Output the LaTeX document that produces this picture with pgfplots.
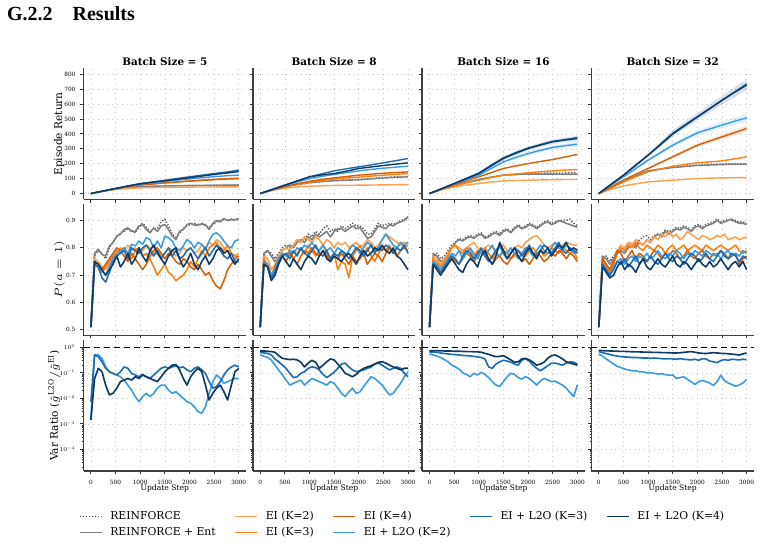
\RequirePackage{fix-cm}
\documentclass[border=0pt]{standalone}
\usepackage{fontspec}
\setmainfont{DejaVu Serif}
\newfontfamily\headfont{Liberation Serif}
\usepackage{pgfplots}
\pgfplotsset{compat=1.18}
\definecolor{cRe}{HTML}{555555}
\definecolor{cEnt}{HTML}{808080}
\definecolor{cE2}{HTML}{FDA050}
\definecolor{cE3}{HTML}{FF7F0E}
\definecolor{cE4}{HTML}{D35F0A}
\definecolor{cL2}{HTML}{3D9BE0}
\definecolor{cL3}{HTML}{1F6DB0}
\definecolor{cL4}{HTML}{0E3A64}
\pgfkeys{/pgfplots/table/s75/.style={/pgfplots/table/x expr=\coordindex*75,/pgfplots/table/y index=0,/pgfplots/table/header=false,/pgfplots/table/row sep=\\}}
\pgfkeys{/pgfplots/table/s250/.style={/pgfplots/table/x expr=\coordindex*250,/pgfplots/table/y index=0,/pgfplots/table/header=false,/pgfplots/table/row sep=\\}}
\pgfplotsset{
 sRe/.style={color=cRe, dash pattern=on 0.6pt off 0.9pt},
 sEnt/.style={color=cEnt},
 sE2/.style={color=cE2},
 sE3/.style={color=cE3},
 sE4/.style={color=cE4},
 sL2/.style={color=cL2},
 sL3/.style={color=cL3},
 sL4/.style={color=cL4},
 band/.style={draw=none, fill=#1, fill opacity=0.16},
 P/.style={scale only axis, width=81.3pt, height=65.6pt, xmin=-150, xmax=3150,
   xtick={0,500,1000,1500,2000,2500,3000},
   axis x line*=bottom, axis y line*=left,
   axis line style={-, draw=black!75, line width=0.7pt},
   tick align=outside, major tick length=1.6pt, minor tick length=0.9pt,
   tick style={draw=black!80, line width=0.4pt},
   xmajorgrids, ymajorgrids, grid style={dotted, draw=black!22, line width=0.3pt},
   tick label style={font=\fontsize{2.9}{3.3}\selectfont},
   xticklabel style={anchor=base, inner sep=0pt, yshift=-5.3pt},
   yticklabel style={anchor=east, inner sep=0pt, xshift=-2.25pt},
   /pgf/number format/assume math mode=true, /pgf/number format/1000 sep={},
   label style={font=\fontsize{5.3}{6}\selectfont},
   ylabel style={at={(axis description cs:-0.132,0.5)}, anchor=base, inner sep=0pt},
   every axis title shift=0pt,
   title style={font=\bfseries\fontsize{5.2}{6}\selectfont, at={(axis description cs:0.5,1)}, anchor=base, yshift=1.3pt, inner sep=0pt},
   every axis plot/.append style={line join=round}},
 R1/.style={P, ymin=-40, ymax=840, ytick={0,100,200,300,400,500,600,700,800}, xticklabels={},
   every axis plot/.append style={line width=0.7pt}},
 R2/.style={P, ymin=0.48, ymax=0.96, ytick={0.5,0.6,0.7,0.8,0.9}, xticklabels={},
   yticklabel style={/pgf/number format/fixed, /pgf/number format/precision=1, /pgf/number format/fixed zerofill},
   every axis plot/.append style={line width=0.78pt}},
 R3/.style={P, ymin=1.4e-5, ymax=1.95, ytick={1e-4,1e-3,1e-2,1e-1,1},
   yticklabels={$10^{-4}$,$10^{-3}$,$10^{-2}$,$10^{-1}$,$10^{0}$},
   minor ytick={2e-5,3e-5,4e-5,5e-5,6e-5,7e-5,8e-5,9e-5,2e-4,3e-4,4e-4,5e-4,6e-4,7e-4,8e-4,9e-4,2e-3,3e-3,4e-3,5e-3,6e-3,7e-3,8e-3,9e-3,2e-2,3e-2,4e-2,5e-2,6e-2,7e-2,8e-2,9e-2,0.2,0.3,0.4,0.5,0.6,0.7,0.8,0.9},
   xlabel={Update Step},
   xlabel style={font=\fontsize{3.8}{4.5}\selectfont, at={(axis description cs:0.5,0)}, anchor=base, yshift=-9.5pt, inner sep=0pt},
   every axis plot/.append style={line width=0.82pt}},
 NY/.style={yticklabels={}},
}
\begin{document}
\begin{tikzpicture}
\path[use as bounding box] (0,0) rectangle (380.5pt,271.5pt);
\node[anchor=base west, inner sep=0pt, font=\headfont\bfseries\fontsize{10}{12}\selectfont] at (3.35pt,261.15pt) {G.2.2\hspace{1em}Results};

% ---------------- ROW 1 : Episode Return ----------------
\begin{axis}[R1, at={(41.75pt,237.35pt)}, anchor=north west, title={Batch Size = 5}, ylabel={Episode Return}]
\addplot[sRe] table[s250] {0\\16\\30\\40\\46\\49\\51\\53\\54\\55\\56\\57\\58\\};
\addplot[sEnt] table[s250] {0\\16\\30\\40\\46\\49\\51\\52\\53\\54\\55\\56\\56\\};
\addplot[sE2] table[s250] {0\\15\\27\\34\\38\\40\\41\\42\\43\\44\\44\\45\\45\\};
\addplot[sE3] table[s250] {0\\16\\32\\46\\58\\65\\72\\78\\84\\90\\95\\100\\104\\};
\addplot[sE4] table[s250] {0\\16\\32\\46\\57\\64\\71\\77\\83\\88\\93\\97\\100\\};
\addplot[sL2] table[s250] {0\\17\\33\\49\\63\\72\\81\\90\\98\\106\\113\\119\\124\\};
\addplot[sL3] table[s250] {0\\17\\34\\51\\67\\78\\89\\101\\112\\123\\134\\144\\157\\};
\addplot[sL4] table[s250] {0\\17\\34\\50\\65\\75\\85\\96\\106\\117\\128\\137\\147\\};
\end{axis}
\begin{axis}[R1, NY, at={(126.4pt,237.35pt)}, anchor=north west, title={Batch Size = 8}]
\addplot[sRe] table[s250] {0\\24\\44\\60\\72\\80\\87\\91\\95\\101\\107\\112\\115\\};
\addplot[sEnt] table[s250] {0\\24\\44\\60\\72\\80\\86\\89\\92\\98\\104\\109\\112\\};
\addplot[sE2] table[s250] {0\\22\\36\\44\\49\\52\\54\\55\\56\\57\\58\\59\\60\\};
\addplot[sE3] table[s250] {0\\24\\45\\62\\76\\88\\97\\104\\110\\117\\123\\129\\134\\};
\addplot[sE4] table[s250] {0\\24\\46\\66\\82\\95\\105\\114\\123\\130\\136\\141\\145\\};
\addplot[sL2] table[s250] {0\\27\\54\\78\\100\\115\\128\\140\\152\\162\\170\\177\\183\\};
\addplot[sL3] table[s250] {0\\28\\56\\84\\112\\132\\152\\166\\179\\192\\206\\220\\235\\};
\addplot[sL4] table[s250] {0\\28\\56\\84\\112\\125\\134\\150\\168\\178\\188\\197\\206\\};
\end{axis}
\begin{axis}[R1, NY, at={(211.05pt,237.35pt)}, anchor=north west, title={Batch Size = 16}]
\addplot[band=cL4] coordinates {(0,0) (500,70) (1000,141) (1500,246) (2000,316) (2500,362) (3000,388) (3000,352) (2500,332) (2000,288) (1500,224) (1000,127) (500,64) (0,0)};
\addplot[band=cL2] coordinates {(0,0) (500,66) (1000,129) (1500,222) (2000,280) (2500,322) (3000,346) (3000,316) (2500,296) (2000,256) (1500,202) (1000,117) (500,60) (0,0)};
\addplot[sRe] table[s250] {0\\28\\52\\74\\94\\110\\124\\129\\134\\136\\137\\138\\139\\};
\addplot[sEnt] table[s250] {0\\28\\52\\74\\94\\110\\123\\127\\130\\130\\130\\130\\130\\};
\addplot[sE2] table[s250] {0\\25\\45\\57\\67\\77\\85\\87\\89\\91\\93\\94\\94\\};
\addplot[sE3] table[s250] {0\\28\\52\\72\\89\\107\\123\\131\\139\\146\\152\\157\\161\\};
\addplot[sE4] table[s250] {0\\30\\58\\86\\112\\140\\168\\185\\201\\215\\228\\245\\262\\};
\addplot[sL2] table[s250] {0\\32\\63\\94\\123\\168\\212\\242\\268\\290\\309\\321\\331\\};
\addplot[sL3] table[s250] {0\\33\\67\\102\\138\\190\\240\\275\\305\\328\\350\\362\\375\\};
\addplot[sL4] table[s250] {0\\33\\67\\100\\134\\185\\235\\270\\302\\325\\347\\359\\369\\};
\end{axis}
\begin{axis}[R1, NY, at={(295.7pt,237.35pt)}, anchor=north west, title={Batch Size = 32}]
\addplot[band=cL4] coordinates {(0,0) (500,130) (1000,270) (1500,425) (2000,540) (2500,655) (3000,765) (3000,695) (2500,597) (2000,490) (1500,382) (1000,245) (500,116) (0,0)};
\addplot[band=cL2] coordinates {(0,0) (500,118) (1000,236) (1500,340) (2000,425) (2500,480) (3000,538) (3000,481) (2500,438) (2000,389) (1500,308) (1000,212) (500,106) (0,0)};
\addplot[band=cE4] coordinates {(0,0) (500,95) (1000,176) (1500,257) (2000,338) (2500,396) (3000,458) (3000,416) (2500,364) (2000,310) (1500,235) (1000,160) (500,85) (0,0)};
\addplot[sRe] table[s250] {0\\39\\78\\118\\150\\165\\176\\184\\191\\195\\198\\200\\201\\};
\addplot[sEnt] table[s250] {0\\39\\78\\118\\152\\164\\174\\181\\188\\191\\194\\196\\197\\};
\addplot[sE2] table[s250] {0\\28\\51\\65\\78\\84\\89\\95\\101\\103\\105\\106\\107\\};
\addplot[sE3] table[s250] {0\\39\\78\\112\\145\\164\\183\\195\\206\\212\\219\\232\\246\\};
\addplot[sE4] table[s250] {0\\45\\90\\129\\168\\207\\246\\285\\324\\352\\380\\408\\436\\};
\addplot[sL2] table[s250] {0\\56\\112\\168\\224\\274\\324\\366\\407\\433\\459\\484\\508\\};
\addplot[sL3] table[s250] {0\\62\\123\\190\\257\\326\\398\\455\\512\\568\\624\\680\\735\\};
\addplot[sL4] table[s250] {0\\62\\123\\190\\257\\330\\403\\460\\515\\570\\626\\678\\727\\};
\end{axis}

% ---------------- ROW 2 : P(a=1) ----------------
\begin{axis}[R2, at={(41.75pt,169.45pt)}, anchor=north west, ylabel={$P(a=1)$}]
\addplot[sRe] table[s75] {0.51\\0.77\\0.79\\0.78\\0.76\\0.80\\0.82\\0.84\\0.855\\0.86\\0.87\\0.865\\0.855\\0.875\\0.89\\0.875\\0.86\\0.87\\0.87\\0.895\\0.905\\0.88\\0.85\\0.84\\0.855\\0.87\\0.88\\0.885\\0.89\\0.88\\0.89\\0.88\\0.875\\0.885\\0.895\\0.9\\0.905\\0.9\\0.905\\0.9\\0.905\\};
\addplot[sEnt] table[s75] {0.51\\0.78\\0.795\\0.776\\0.77\\0.807\\0.82\\0.843\\0.85\\0.867\\0.873\\0.86\\0.86\\0.88\\0.885\\0.867\\0.855\\0.873\\0.86\\0.88\\0.885\\0.867\\0.843\\0.83\\0.86\\0.867\\0.885\\0.89\\0.883\\0.885\\0.887\\0.885\\0.867\\0.89\\0.9\\0.895\\0.907\\0.9\\0.903\\0.903\\0.907\\};
\addplot[sE2] table[s75] {0.51\\0.76\\0.75\\0.73\\0.72\\0.74\\0.76\\0.78\\0.80\\0.79\\0.81\\0.79\\0.80\\0.78\\0.79\\0.81\\0.80\\0.78\\0.79\\0.77\\0.78\\0.80\\0.79\\0.77\\0.78\\0.80\\0.79\\0.80\\0.78\\0.79\\0.81\\0.80\\0.82\\0.81\\0.83\\0.82\\0.80\\0.79\\0.78\\0.77\\0.78\\};
\addplot[sE3] table[s75] {0.51\\0.74\\0.73\\0.71\\0.73\\0.75\\0.77\\0.79\\0.78\\0.80\\0.78\\0.76\\0.79\\0.80\\0.77\\0.78\\0.76\\0.73\\0.70\\0.72\\0.74\\0.71\\0.70\\0.68\\0.69\\0.70\\0.72\\0.75\\0.73\\0.76\\0.79\\0.77\\0.80\\0.81\\0.82\\0.80\\0.79\\0.81\\0.78\\0.77\\0.77\\};
\addplot[sE4] table[s75] {0.51\\0.75\\0.74\\0.72\\0.74\\0.76\\0.78\\0.80\\0.79\\0.77\\0.75\\0.78\\0.76\\0.74\\0.72\\0.74\\0.77\\0.79\\0.80\\0.78\\0.76\\0.78\\0.77\\0.75\\0.74\\0.76\\0.75\\0.73\\0.72\\0.74\\0.72\\0.70\\0.71\\0.68\\0.66\\0.65\\0.68\\0.72\\0.74\\0.76\\0.77\\};
\addplot[sL2] table[s75] {0.51\\0.75\\0.74\\0.716\\0.70\\0.73\\0.764\\0.776\\0.79\\0.80\\0.78\\0.813\\0.807\\0.825\\0.813\\0.837\\0.83\\0.80\\0.825\\0.80\\0.843\\0.837\\0.825\\0.80\\0.79\\0.807\\0.83\\0.82\\0.80\\0.82\\0.813\\0.795\\0.825\\0.85\\0.855\\0.843\\0.825\\0.807\\0.80\\0.825\\0.83\\};
\addplot[sL3] table[s75] {0.51\\0.74\\0.73\\0.69\\0.675\\0.71\\0.75\\0.77\\0.78\\0.79\\0.76\\0.80\\0.79\\0.78\\0.80\\0.81\\0.79\\0.77\\0.79\\0.76\\0.78\\0.80\\0.77\\0.79\\0.76\\0.77\\0.79\\0.80\\0.78\\0.76\\0.78\\0.80\\0.77\\0.79\\0.81\\0.79\\0.77\\0.76\\0.78\\0.75\\0.75\\};
\addplot[sL4] table[s75] {0.51\\0.75\\0.74\\0.72\\0.70\\0.72\\0.74\\0.77\\0.73\\0.75\\0.78\\0.74\\0.76\\0.80\\0.77\\0.75\\0.79\\0.81\\0.78\\0.76\\0.74\\0.77\\0.79\\0.80\\0.76\\0.73\\0.75\\0.78\\0.74\\0.72\\0.75\\0.77\\0.74\\0.76\\0.79\\0.80\\0.78\\0.79\\0.76\\0.74\\0.76\\};
\end{axis}
\begin{axis}[R2, NY, at={(126.4pt,169.45pt)}, anchor=north west]
\addplot[sRe] table[s75] {0.51\\0.77\\0.79\\0.78\\0.76\\0.78\\0.80\\0.81\\0.80\\0.81\\0.83\\0.82\\0.83\\0.85\\0.84\\0.86\\0.85\\0.87\\0.88\\0.86\\0.87\\0.86\\0.88\\0.87\\0.88\\0.89\\0.88\\0.88\\0.87\\0.85\\0.85\\0.87\\0.89\\0.88\\0.885\\0.89\\0.885\\0.89\\0.90\\0.905\\0.91\\};
\addplot[sEnt] table[s75] {0.51\\0.78\\0.79\\0.77\\0.75\\0.77\\0.79\\0.80\\0.81\\0.80\\0.82\\0.83\\0.82\\0.84\\0.83\\0.85\\0.84\\0.85\\0.86\\0.84\\0.86\\0.87\\0.87\\0.86\\0.87\\0.88\\0.87\\0.875\\0.855\\0.835\\0.84\\0.86\\0.88\\0.875\\0.87\\0.885\\0.88\\0.89\\0.895\\0.90\\0.915\\};
\addplot[sE2] table[s75] {0.51\\0.77\\0.76\\0.72\\0.74\\0.77\\0.79\\0.80\\0.79\\0.81\\0.83\\0.82\\0.84\\0.83\\0.82\\0.84\\0.83\\0.81\\0.83\\0.82\\0.80\\0.82\\0.81\\0.82\\0.80\\0.81\\0.82\\0.80\\0.81\\0.83\\0.82\\0.80\\0.81\\0.83\\0.85\\0.84\\0.83\\0.82\\0.81\\0.82\\0.82\\};
\addplot[sE3] table[s75] {0.51\\0.76\\0.74\\0.70\\0.72\\0.76\\0.78\\0.77\\0.79\\0.76\\0.78\\0.80\\0.78\\0.81\\0.79\\0.77\\0.79\\0.81\\0.78\\0.76\\0.78\\0.72\\0.75\\0.74\\0.69\\0.77\\0.79\\0.81\\0.78\\0.80\\0.77\\0.75\\0.78\\0.80\\0.79\\0.81\\0.78\\0.80\\0.82\\0.80\\0.81\\};
\addplot[sE4] table[s75] {0.51\\0.75\\0.73\\0.70\\0.73\\0.76\\0.77\\0.75\\0.78\\0.76\\0.74\\0.77\\0.79\\0.78\\0.80\\0.78\\0.77\\0.79\\0.77\\0.75\\0.77\\0.76\\0.78\\0.76\\0.74\\0.77\\0.75\\0.76\\0.78\\0.74\\0.76\\0.78\\0.77\\0.75\\0.78\\0.80\\0.79\\0.77\\0.79\\0.80\\0.79\\};
\addplot[sL2] table[s75] {0.51\\0.75\\0.74\\0.70\\0.72\\0.76\\0.78\\0.77\\0.79\\0.78\\0.80\\0.79\\0.81\\0.80\\0.82\\0.80\\0.79\\0.81\\0.79\\0.80\\0.78\\0.80\\0.79\\0.77\\0.79\\0.81\\0.80\\0.78\\0.80\\0.82\\0.81\\0.79\\0.80\\0.83\\0.85\\0.83\\0.81\\0.80\\0.82\\0.81\\0.82\\};
\addplot[sL3] table[s75] {0.51\\0.74\\0.73\\0.69\\0.71\\0.75\\0.77\\0.78\\0.76\\0.79\\0.77\\0.80\\0.78\\0.77\\0.79\\0.81\\0.78\\0.77\\0.79\\0.76\\0.78\\0.77\\0.79\\0.78\\0.76\\0.78\\0.80\\0.79\\0.77\\0.79\\0.81\\0.78\\0.80\\0.79\\0.81\\0.80\\0.78\\0.80\\0.79\\0.81\\0.78\\};
\addplot[sL4] table[s75] {0.51\\0.74\\0.73\\0.68\\0.70\\0.74\\0.77\\0.75\\0.73\\0.76\\0.74\\0.72\\0.75\\0.77\\0.76\\0.74\\0.77\\0.79\\0.76\\0.75\\0.77\\0.76\\0.75\\0.77\\0.78\\0.76\\0.74\\0.77\\0.79\\0.77\\0.78\\0.80\\0.79\\0.81\\0.79\\0.78\\0.80\\0.77\\0.76\\0.74\\0.72\\};
\end{axis}
\begin{axis}[R2, NY, at={(211.05pt,169.45pt)}, anchor=north west]
\addplot[sRe] table[s75] {0.51\\0.77\\0.78\\0.76\\0.77\\0.79\\0.81\\0.82\\0.835\\0.83\\0.84\\0.845\\0.84\\0.85\\0.855\\0.84\\0.845\\0.855\\0.86\\0.85\\0.865\\0.87\\0.86\\0.875\\0.885\\0.875\\0.88\\0.89\\0.885\\0.875\\0.885\\0.895\\0.9\\0.89\\0.895\\0.9\\0.9\\0.9\\0.905\\0.89\\0.88\\};
\addplot[sEnt] table[s75] {0.51\\0.78\\0.77\\0.75\\0.76\\0.78\\0.80\\0.82\\0.83\\0.825\\0.835\\0.84\\0.835\\0.845\\0.85\\0.835\\0.84\\0.85\\0.855\\0.845\\0.86\\0.865\\0.855\\0.87\\0.88\\0.87\\0.875\\0.885\\0.88\\0.87\\0.88\\0.89\\0.895\\0.885\\0.89\\0.90\\0.895\\0.89\\0.885\\0.88\\0.875\\};
\addplot[sE2] table[s75] {0.51\\0.77\\0.76\\0.74\\0.76\\0.78\\0.80\\0.81\\0.80\\0.79\\0.80\\0.81\\0.82\\0.80\\0.79\\0.80\\0.81\\0.80\\0.79\\0.80\\0.81\\0.79\\0.78\\0.80\\0.81\\0.80\\0.82\\0.83\\0.84\\0.845\\0.83\\0.81\\0.80\\0.81\\0.82\\0.80\\0.81\\0.82\\0.815\\0.81\\0.81\\};
\addplot[sE3] table[s75] {0.51\\0.76\\0.75\\0.73\\0.75\\0.77\\0.80\\0.81\\0.79\\0.78\\0.80\\0.79\\0.77\\0.79\\0.78\\0.80\\0.78\\0.76\\0.78\\0.77\\0.79\\0.78\\0.76\\0.77\\0.79\\0.78\\0.77\\0.79\\0.80\\0.78\\0.79\\0.77\\0.78\\0.80\\0.79\\0.78\\0.80\\0.79\\0.78\\0.79\\0.76\\};
\addplot[sE4] table[s75] {0.51\\0.75\\0.73\\0.71\\0.72\\0.75\\0.77\\0.75\\0.74\\0.76\\0.78\\0.77\\0.75\\0.77\\0.79\\0.78\\0.76\\0.74\\0.76\\0.77\\0.75\\0.74\\0.76\\0.78\\0.77\\0.75\\0.76\\0.74\\0.76\\0.78\\0.77\\0.75\\0.76\\0.78\\0.77\\0.79\\0.78\\0.76\\0.78\\0.77\\0.75\\};
\addplot[sL2] table[s75] {0.51\\0.75\\0.74\\0.72\\0.74\\0.76\\0.78\\0.77\\0.79\\0.76\\0.78\\0.80\\0.78\\0.76\\0.79\\0.77\\0.79\\0.81\\0.78\\0.77\\0.79\\0.78\\0.80\\0.78\\0.76\\0.78\\0.80\\0.79\\0.77\\0.79\\0.81\\0.79\\0.78\\0.80\\0.82\\0.80\\0.79\\0.81\\0.80\\0.78\\0.79\\};
\addplot[sL3] table[s75] {0.51\\0.74\\0.73\\0.71\\0.73\\0.75\\0.77\\0.76\\0.74\\0.77\\0.79\\0.78\\0.76\\0.78\\0.80\\0.77\\0.75\\0.77\\0.79\\0.81\\0.78\\0.76\\0.78\\0.80\\0.79\\0.77\\0.79\\0.81\\0.78\\0.77\\0.79\\0.81\\0.80\\0.78\\0.80\\0.82\\0.79\\0.78\\0.80\\0.79\\0.78\\};
\addplot[sL4] table[s75] {0.51\\0.74\\0.72\\0.70\\0.72\\0.74\\0.76\\0.74\\0.72\\0.71\\0.74\\0.76\\0.75\\0.73\\0.77\\0.79\\0.76\\0.74\\0.77\\0.82\\0.79\\0.76\\0.78\\0.80\\0.77\\0.75\\0.78\\0.80\\0.78\\0.76\\0.79\\0.78\\0.80\\0.77\\0.79\\0.81\\0.80\\0.82\\0.79\\0.80\\0.79\\};
\end{axis}
\begin{axis}[R2, NY, at={(295.7pt,169.45pt)}, anchor=north west]
\addplot[sRe] table[s75] {0.51\\0.76\\0.77\\0.75\\0.77\\0.79\\0.80\\0.79\\0.81\\0.82\\0.81\\0.83\\0.84\\0.845\\0.83\\0.845\\0.85\\0.85\\0.865\\0.86\\0.865\\0.875\\0.87\\0.88\\0.875\\0.865\\0.88\\0.885\\0.875\\0.885\\0.89\\0.895\\0.905\\0.895\\0.9\\0.905\\0.9\\0.9\\0.895\\0.895\\0.89\\};
\addplot[sEnt] table[s75] {0.51\\0.77\\0.76\\0.74\\0.76\\0.78\\0.79\\0.78\\0.80\\0.81\\0.80\\0.82\\0.81\\0.83\\0.82\\0.84\\0.85\\0.84\\0.86\\0.85\\0.86\\0.87\\0.865\\0.875\\0.87\\0.86\\0.875\\0.88\\0.87\\0.88\\0.885\\0.89\\0.90\\0.89\\0.895\\0.90\\0.905\\0.895\\0.89\\0.89\\0.885\\};
\addplot[sE2] table[s75] {0.51\\0.76\\0.74\\0.72\\0.75\\0.79\\0.81\\0.80\\0.82\\0.81\\0.83\\0.82\\0.81\\0.83\\0.82\\0.84\\0.83\\0.85\\0.84\\0.86\\0.84\\0.85\\0.83\\0.84\\0.86\\0.85\\0.84\\0.83\\0.845\\0.84\\0.83\\0.835\\0.845\\0.84\\0.85\\0.83\\0.835\\0.84\\0.83\\0.835\\0.84\\};
\addplot[sE3] table[s75] {0.51\\0.75\\0.73\\0.71\\0.74\\0.78\\0.80\\0.79\\0.81\\0.80\\0.82\\0.80\\0.79\\0.81\\0.80\\0.79\\0.81\\0.80\\0.78\\0.80\\0.81\\0.79\\0.80\\0.81\\0.79\\0.80\\0.81\\0.80\\0.79\\0.81\\0.80\\0.79\\0.80\\0.81\\0.80\\0.79\\0.80\\0.81\\0.79\\0.78\\0.79\\};
\addplot[sE4] table[s75] {0.51\\0.76\\0.74\\0.72\\0.75\\0.79\\0.78\\0.75\\0.77\\0.79\\0.76\\0.78\\0.77\\0.75\\0.77\\0.79\\0.78\\0.76\\0.78\\0.77\\0.79\\0.78\\0.76\\0.77\\0.79\\0.77\\0.76\\0.78\\0.79\\0.77\\0.76\\0.78\\0.77\\0.79\\0.78\\0.76\\0.77\\0.78\\0.74\\0.76\\0.77\\};
\addplot[sL2] table[s75] {0.51\\0.74\\0.72\\0.70\\0.73\\0.75\\0.76\\0.74\\0.76\\0.77\\0.75\\0.77\\0.76\\0.78\\0.76\\0.77\\0.79\\0.77\\0.76\\0.78\\0.77\\0.79\\0.78\\0.76\\0.78\\0.77\\0.79\\0.78\\0.77\\0.79\\0.78\\0.77\\0.78\\0.76\\0.78\\0.79\\0.77\\0.78\\0.77\\0.79\\0.78\\};
\addplot[sL3] table[s75] {0.51\\0.74\\0.72\\0.70\\0.72\\0.75\\0.74\\0.76\\0.73\\0.75\\0.77\\0.74\\0.76\\0.75\\0.77\\0.75\\0.74\\0.76\\0.78\\0.76\\0.75\\0.77\\0.76\\0.74\\0.76\\0.78\\0.77\\0.75\\0.76\\0.78\\0.76\\0.75\\0.77\\0.79\\0.77\\0.76\\0.78\\0.77\\0.75\\0.77\\0.76\\};
\addplot[sL4] table[s75] {0.51\\0.73\\0.71\\0.69\\0.70\\0.73\\0.75\\0.72\\0.74\\0.73\\0.71\\0.74\\0.76\\0.73\\0.72\\0.74\\0.76\\0.74\\0.73\\0.75\\0.77\\0.74\\0.73\\0.75\\0.74\\0.72\\0.74\\0.76\\0.74\\0.73\\0.75\\0.73\\0.74\\0.76\\0.74\\0.72\\0.74\\0.75\\0.73\\0.75\\0.72\\};
\end{axis}

% ---------------- ROW 3 : Var Ratio ----------------
\begin{axis}[ymode=log, R3, at={(41.75pt,101.55pt)}, anchor=north west, ylabel={Var Ratio ($\hat{g}^{\mathrm{L2O}}/\hat{g}^{\mathrm{EI}}$)}, ylabel style={at={(axis description cs:-0.157,0.5)}}]
\addplot[black, densely dashed, line width=0.4pt] coordinates {(-150,1) (3150,1)};
\addplot[sL2] table[s75] {0.0017\\0.5\\0.5\\0.37\\0.17\\0.11\\0.095\\0.082\\0.07\\0.052\\0.033\\0.021\\0.0117\\0.0074\\0.0117\\0.0157\\0.0117\\0.0157\\0.025\\0.033\\0.033\\0.021\\0.0157\\0.018\\0.0135\\0.01\\0.0074\\0.0064\\0.0047\\0.003\\0.0026\\0.0047\\0.0157\\0.045\\0.082\\0.06\\0.039\\0.045\\0.052\\0.06\\0.06\\};
\addplot[sL3] table[s75] {0.0074\\0.5\\0.43\\0.27\\0.15\\0.11\\0.095\\0.082\\0.11\\0.17\\0.15\\0.095\\0.082\\0.07\\0.087\\0.07\\0.06\\0.082\\0.11\\0.15\\0.17\\0.15\\0.17\\0.19\\0.16\\0.17\\0.13\\0.11\\0.15\\0.17\\0.13\\0.095\\0.045\\0.025\\0.029\\0.045\\0.082\\0.13\\0.17\\0.2\\0.17\\};
\addplot[sL4] table[s75] {0.0014\\0.06\\0.15\\0.11\\0.033\\0.0135\\0.0157\\0.025\\0.045\\0.052\\0.06\\0.052\\0.07\\0.06\\0.082\\0.07\\0.06\\0.052\\0.045\\0.07\\0.11\\0.15\\0.2\\0.21\\0.13\\0.06\\0.033\\0.07\\0.11\\0.15\\0.11\\0.033\\0.0086\\0.0157\\0.025\\0.033\\0.018\\0.0086\\0.033\\0.11\\0.15\\};
\end{axis}
\begin{axis}[ymode=log, R3, NY, at={(126.4pt,101.55pt)}, anchor=north west]
\addplot[black, densely dashed, line width=0.4pt] coordinates {(-150,1) (3150,1)};
\addplot[sL2] table[s75] {0.5\\0.45\\0.4\\0.32\\0.2\\0.13\\0.082\\0.052\\0.033\\0.039\\0.045\\0.052\\0.033\\0.045\\0.06\\0.052\\0.045\\0.039\\0.033\\0.045\\0.039\\0.025\\0.0157\\0.0117\\0.018\\0.025\\0.0157\\0.018\\0.029\\0.045\\0.07\\0.06\\0.045\\0.033\\0.021\\0.0135\\0.0157\\0.025\\0.039\\0.07\\0.11\\};
\addplot[sL3] table[s75] {0.62\\0.6\\0.58\\0.5\\0.35\\0.27\\0.2\\0.15\\0.096\\0.065\\0.07\\0.096\\0.11\\0.15\\0.17\\0.16\\0.13\\0.087\\0.065\\0.082\\0.105\\0.15\\0.22\\0.24\\0.17\\0.13\\0.11\\0.12\\0.13\\0.15\\0.17\\0.22\\0.24\\0.2\\0.16\\0.13\\0.15\\0.17\\0.15\\0.096\\0.07\\};
\addplot[sL4] table[s75] {0.72\\0.72\\0.70\\0.68\\0.64\\0.47\\0.37\\0.35\\0.33\\0.34\\0.32\\0.26\\0.17\\0.24\\0.31\\0.26\\0.15\\0.2\\0.27\\0.35\\0.32\\0.22\\0.15\\0.096\\0.082\\0.07\\0.087\\0.12\\0.15\\0.17\\0.19\\0.22\\0.26\\0.27\\0.24\\0.2\\0.17\\0.15\\0.13\\0.15\\0.15\\};
\end{axis}
\begin{axis}[ymode=log, R3, NY, at={(211.05pt,101.55pt)}, anchor=north west]
\addplot[black, densely dashed, line width=0.4pt] coordinates {(-150,1) (3150,1)};
\addplot[sL2] table[s75] {0.55\\0.5\\0.45\\0.4\\0.33\\0.27\\0.2\\0.17\\0.14\\0.1\\0.087\\0.07\\0.096\\0.082\\0.105\\0.087\\0.065\\0.045\\0.033\\0.029\\0.045\\0.07\\0.096\\0.087\\0.065\\0.057\\0.07\\0.06\\0.045\\0.033\\0.048\\0.06\\0.052\\0.045\\0.047\\0.039\\0.033\\0.025\\0.017\\0.0117\\0.033\\};
\addplot[sL3] table[s75] {0.65\\0.66\\0.64\\0.6\\0.57\\0.55\\0.53\\0.52\\0.5\\0.48\\0.47\\0.46\\0.44\\0.42\\0.4\\0.35\\0.17\\0.15\\0.22\\0.27\\0.31\\0.29\\0.26\\0.22\\0.2\\0.32\\0.35\\0.29\\0.2\\0.15\\0.12\\0.15\\0.19\\0.24\\0.24\\0.22\\0.2\\0.24\\0.27\\0.26\\0.22\\};
\addplot[sL4] table[s75] {0.72\\0.74\\0.74\\0.73\\0.72\\0.72\\0.71\\0.70\\0.70\\0.69\\0.68\\0.68\\0.67\\0.66\\0.64\\0.58\\0.53\\0.47\\0.43\\0.44\\0.47\\0.39\\0.32\\0.26\\0.27\\0.35\\0.37\\0.32\\0.26\\0.2\\0.22\\0.26\\0.37\\0.47\\0.5\\0.43\\0.35\\0.27\\0.24\\0.22\\0.2\\};
\end{axis}
\begin{axis}[ymode=log, R3, NY, at={(295.7pt,101.55pt)}, anchor=north west]
\addplot[black, densely dashed, line width=0.4pt] coordinates {(-150,1) (3150,1)};
\addplot[sL2] table[s75] {0.55\\0.45\\0.35\\0.28\\0.22\\0.18\\0.16\\0.14\\0.13\\0.12\\0.12\\0.11\\0.11\\0.10\\0.10\\0.095\\0.09\\0.092\\0.085\\0.08\\0.082\\0.06\\0.065\\0.07\\0.055\\0.045\\0.035\\0.045\\0.05\\0.045\\0.04\\0.032\\0.045\\0.08\\0.05\\0.04\\0.035\\0.03\\0.033\\0.04\\0.055\\};
\addplot[sL3] table[s75] {0.68\\0.62\\0.57\\0.52\\0.48\\0.45\\0.43\\0.42\\0.41\\0.40\\0.40\\0.39\\0.38\\0.38\\0.37\\0.38\\0.37\\0.36\\0.35\\0.36\\0.35\\0.34\\0.36\\0.34\\0.33\\0.32\\0.34\\0.31\\0.36\\0.35\\0.29\\0.27\\0.25\\0.3\\0.33\\0.31\\0.34\\0.33\\0.32\\0.34\\0.33\\};
\addplot[sL4] table[s75] {0.75\\0.74\\0.73\\0.72\\0.71\\0.70\\0.69\\0.69\\0.68\\0.67\\0.66\\0.66\\0.65\\0.65\\0.64\\0.63\\0.63\\0.62\\0.62\\0.61\\0.60\\0.60\\0.61\\0.63\\0.66\\0.68\\0.64\\0.60\\0.58\\0.57\\0.59\\0.62\\0.60\\0.58\\0.57\\0.56\\0.54\\0.52\\0.50\\0.55\\0.60\\};
\end{axis}

% ---------------- Legend ----------------
\begin{axis}[at={(41.75pt,101.55pt)}, anchor=north west, scale only axis, width=81.3pt, height=65.6pt,
  hide axis, xmin=0, xmax=1, ymin=0, ymax=1,
  legend columns=5, legend cell align=left,
  every axis plot/.append style={line width=0.6pt},
  legend image code/.code={\draw[#1] (0pt,0pt) -- (11pt,0pt);},
  legend style={at={(axis description cs:-0.0258,-0.3095)}, anchor=north west, draw=none, fill=none,
    inner sep=0pt, outer sep=0pt, font=\fontsize{5.4}{6}\selectfont, row sep=2.55pt,
    nodes={inner sep=0pt, text height=4pt, text depth=1.1pt},
    /tikz/every odd column/.append style={column sep=3.9pt},
    /tikz/every even column/.append style={column sep=9.5pt}}]
\addlegendimage{sRe}\addlegendentry{REINFORCE}
\addlegendimage{sE2}\addlegendentry{EI (K=2)}
\addlegendimage{sE4}\addlegendentry{EI (K=4)}
\addlegendimage{sL3}\addlegendentry{EI + L2O (K=3)}
\addlegendimage{sL4}\addlegendentry{EI + L2O (K=4)}
\addlegendimage{sEnt}\addlegendentry{REINFORCE + Ent}
\addlegendimage{sE3}\addlegendentry{EI (K=3)}
\addlegendimage{sL2}\addlegendentry{EI + L2O (K=2)}
\end{axis}
\end{tikzpicture}
\end{document}
